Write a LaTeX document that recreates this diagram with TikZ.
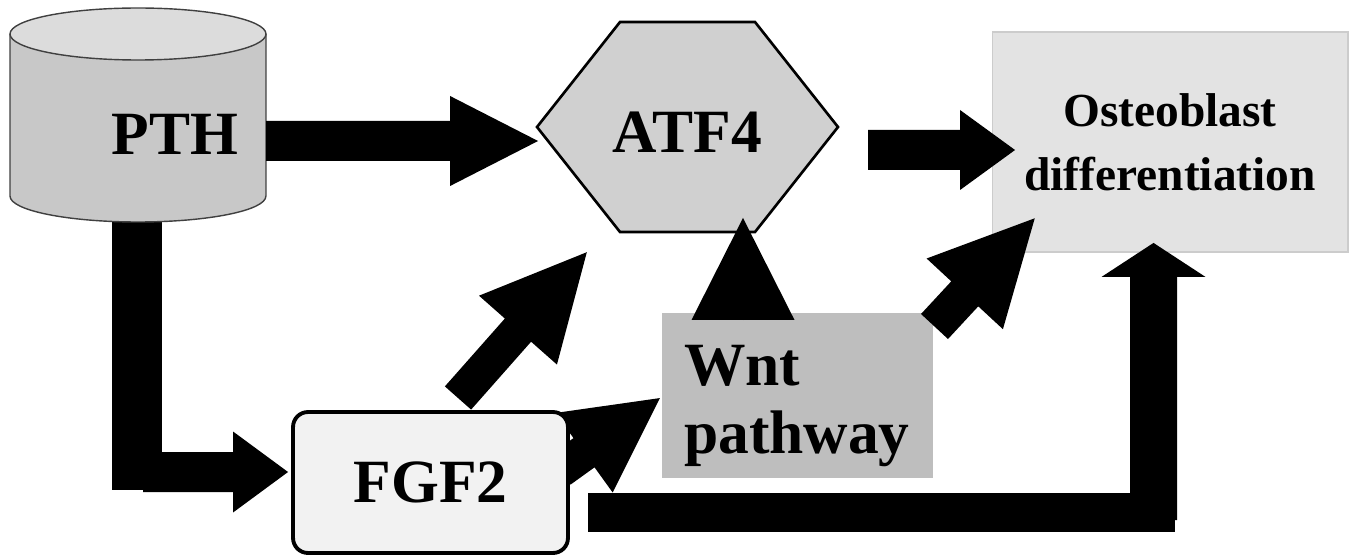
\documentclass[tikz,border=0pt]{standalone}
\usepackage{fontspec}
\setmainfont{Liberation Serif}
\usetikzlibrary{calc}
\definecolor{cyltop}{HTML}{DCDCDC}
\definecolor{cylbody}{HTML}{C8C8C8}
\definecolor{hexfill}{HTML}{D0D0D0}
\definecolor{ostfill}{HTML}{E3E3E3}
\definecolor{wntfill}{HTML}{BEBEBE}
\definecolor{fgffill}{HTML}{F2F2F2}
\tikzset{
  big/.style={font=\bfseries\fontsize{35}{38.7}\selectfont},
  mid/.style={font=\bfseries\fontsize{27}{36.4}\selectfont},
  blockarrowstyle/.style={fill=black},
  cylline/.style={draw=black!75, line width=0.8pt},
  ostbox/.style={rectangle, fill=ostfill, draw=black!20, line width=0.6pt,
    minimum width=7.12cm, minimum height=4.4cm, inner sep=0pt, mid, align=center},
  wntbox/.style={rectangle, fill=wntfill, minimum width=5.42cm, minimum height=3.3cm, inner sep=0pt},
  fgfbox/.style={rectangle, rounded corners=0.3cm, fill=fgffill, draw=black, line width=2.2pt,
    minimum width=5.5cm, minimum height=2.82cm, inner sep=0pt, big},
}
\newcommand\blockarrow[5]{%
  \path let \p1=(#1), \p2=(#2) in \pgfextra{%
    \pgfmathparse{atan2(\y2-\y1,\x2-\x1)}\xdef\baang{\pgfmathresult}%
    \pgfmathparse{veclen(\x2-\x1,\y2-\y1)/0.569055}\xdef\balen{\pgfmathresult}};
  \fill[blockarrowstyle, shift={(#1)}, rotate=\baang]
    (0,-#3) -- ({\balen-#5},-#3) -- ({\balen-#5},-#4) -- (\balen,0)
    -- ({\balen-#5},#4) -- ({\balen-#5},#3) -- (0,#3) -- cycle;
}
\begin{document}
\begin{tikzpicture}[x=0.02cm,y=-0.02cm]
\useasboundingbox (0,0) rectangle (1358,557);
% arrow end points
\coordinate (a1s) at (266,141);   \coordinate (a1t) at (538,141);
\coordinate (a2s) at (868,150);   \coordinate (a2t) at (1015,150);
\coordinate (a3s) at (458,398);   \coordinate (a3t) at (587,252);
\coordinate (a4s) at (934.5,326.5); \coordinate (a4t) at (1035,218);
\coordinate (a5s) at (560,470);   \coordinate (a5t) at (660,398);
\coordinate (a6s) at (743,320);   \coordinate (a6t) at (743,218);
\coordinate (a7s) at (143,472);   \coordinate (a7t) at (288,472);
\coordinate (a8s) at (1153.5,520); \coordinate (a8t) at (1153.5,243);

% Osteoblast box
\node[ostbox] (ost) at (1170,142) {Osteoblast\\differentiation};

% PTH -> FGF2 vertical bar
\fill (112,215) rectangle (162,490);

% cylinder PTH
\fill[cylbody] (10,34) -- (10,196) arc[start angle=180,end angle=360,x radius=2.56cm,y radius=0.52cm] -- (266,34) -- cycle;
\draw[cylline] (10,34) -- (10,196) arc[start angle=180,end angle=360,x radius=2.56cm,y radius=0.52cm] -- (266,34);
\filldraw[cylline, fill=cyltop] (138,34) ellipse [x radius=2.56cm, y radius=0.52cm];
\node[big] (pth) at (175,134) {PTH};

% ATF4 hexagon
\draw[line width=1.5pt, fill=hexfill] (537,127) -- (620,22) -- (755,22) -- (838,127) -- (755,232) -- (620,232) -- cycle;
\node[big] (atf4) at (687.5,132) {ATF4};

% Wnt box
\node[wntbox] (wnt) at (797.5,395.5) {};
\node[big, align=left, anchor=west] (wnttext) at (678,406) {Wnt\\pathway};

% FGF2 -> Wnt (under FGF2 box)
\blockarrow{a5s}{a5t}{18}{49}{93.5}

% FGF2 box
\node[fgfbox] (fgf2) at (430.5,482.5) {\raisebox{-0.22cm}{FGF2}};

% arrows
\blockarrow{a1s}{a1t}{20}{45}{88}
\blockarrow{a2s}{a2t}{20}{40}{55}
\blockarrow{a3s}{a3t}{17.5}{52}{104}
\blockarrow{a4s}{a4t}{18.4}{52}{103}
\blockarrow{a6s}{a6t}{0}{51.5}{102}
\blockarrow{a7s}{a7t}{20}{40.5}{55}
\fill (588,493) rectangle (1175,532);
\blockarrow{a8s}{a8t}{23.5}{52}{34}
\end{tikzpicture}
\end{document}
